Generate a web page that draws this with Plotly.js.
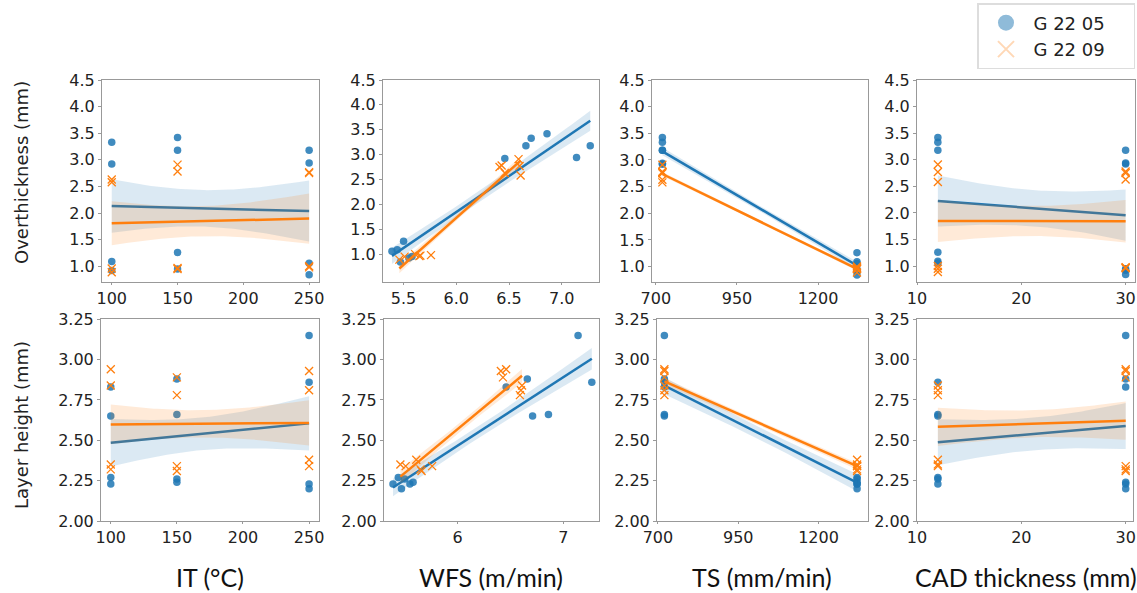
<!DOCTYPE html>
<html><head><meta charset="utf-8">
<script src="https://cdn.plot.ly/plotly-3.0.1.min.js"></script>
<style>html,body{margin:0;padding:0;background:#fff}#chart{width:1137px;height:593px}</style>
</head><body><div id="chart"></div>
<script>
// ---- Data (one entry per sample) ----
// G 22 05
const b_IT  = [100,100,150,150,250,250,100,100,150,150,250,250];
const b_TS  = [720,720,720,720,720,720,1320,1320,1320,1320,1320,1320];
const b_CAD = [12,30,12,30,12,30,12,30,12,30,12,30];
const b_WFS = [6.71,6.46,6.86,6.66,7.27,7.14,5.44,5.55,5.50,5.58,5.39,5.47];
const b_OT  = [3.33,2.92,3.42,3.18,3.18,2.94,1.09,0.92,1.26,0.95,1.06,0.84];
const b_LH  = [2.65,2.83,2.66,2.88,2.86,3.15,2.27,2.23,2.26,2.24,2.23,2.20];
// G 22 09
const o_IT  = [100,100,150,150,250,250,100,100,150,150,250,250];
const o_TS  = [720,720,720,720,720,720,1320,1320,1320,1320,1320,1320];
const o_CAD = [12,30,12,30,12,30,12,30,12,30,12,30];
const o_WFS = [6.61,6.46,6.59,6.43,6.60,6.41,5.46,5.65,5.51,5.66,5.61,5.76];
const o_OT  = [2.58,2.63,2.91,2.78,2.77,2.75,0.89,0.96,0.95,0.97,1.00,0.98];
const o_LH  = [2.84,2.94,2.78,2.89,2.81,2.93,2.35,2.32,2.34,2.31,2.38,2.34];

const seriesNames = ['G 22 05','G 22 09'];
const xLabels = ['IT (°C)','WFS (m/min)','TS (mm/min)','CAD thickness (mm)'];
const yLabels = ['Overthickness (mm)','Layer height (mm)'];

// ---- styling ----
const W=1137,H=593;
const BLUE='#1f77b4', ORANGE='#ff7f0e';
const fx = p=>p/W, fy = p=>1-p/H;
const colPx = [[[102,319],[383,599],[652,868],[917,1135]],[[101,319],[384,599],[657,868],[917,1133]]];
const rowPx = [[80,281.5],[319.3,521]];
const xRanges = [[[92.6,257.5],[5.305,7.353],[688,1354],[10,30.9]],[[92.6,257.5],[5.305,7.338],[697,1354],[10,30.7]]];
const yRanges = [[[0.715,4.5],[0.45,4.5],[0.72,4.5],[0.71,4.5]],[[2,3.25],[2,3.25],[2,3.25],[2,3.25]]];
const xTicks = [[[100,150,200,250],[5.5,6.0,6.5,7.0],[700,950,1200],[10,20,30]],[[100,150,200,250],[6,7],[700,950,1200],[10,20,30]]];
const xTickText = [[['100','150','200','250'],['5.5','6.0','6.5','7.0'],['700','950','1200'],['10','20','30']],[['100','150','200','250'],['6','7'],['700','950','1200'],['10','20','30']]];
const yTicks = [[1.0,1.5,2.0,2.5,3.0,3.5,4.0,4.5],[2.00,2.25,2.50,2.75,3.00,3.25]];
const yTickText = [['1.0','1.5','2.0','2.5','3.0','3.5','4.0','4.5'],['2.00','2.25','2.50','2.75','3.00','3.25']];

function fit(xs, ys){
  const n=xs.length; let mx=0,my=0; for(let i=0;i<n;i++){mx+=xs[i];my+=ys[i];} mx/=n; my/=n;
  let sxx=0,sxy=0; for(let i=0;i<n;i++){sxx+=(xs[i]-mx)**2; sxy+=(xs[i]-mx)*(ys[i]-my);}
  const b=sxy/sxx, a=my-b*mx; let ss=0; for(let i=0;i<n;i++){ss+=(ys[i]-a-b*xs[i])**2;}
  const s=Math.sqrt(ss/(n-2)); const lo=Math.min(...xs), hi=Math.max(...xs);
  const gx=[],gy=[],up=[],dn=[]; const N=60;
  for(let k=0;k<=N;k++){const x=lo+(hi-lo)*k/N; const y=a+b*x; const se=s*Math.sqrt(1/n+(x-mx)**2/sxx);
    gx.push(x);gy.push(y);up.push(y+se);dn.push(y-se);}
  return {gx,gy,up,dn};
}

const groups = [
  {name:seriesNames[0], col:BLUE, fill:'rgba(31,119,180,0.16)', xs:[b_IT,b_WFS,b_TS,b_CAD], ys:[b_OT,b_LH],
   marker:{symbol:'circle',size:7.5,color:'rgba(31,119,180,0.85)'}},
  {name:seriesNames[1], col:ORANGE, fill:'rgba(255,127,14,0.16)', xs:[o_IT,o_WFS,o_TS,o_CAD], ys:[o_OT,o_LH],
   marker:{symbol:'x-thin-open',size:8,color:ORANGE,line:{color:ORANGE,width:1.3}}}
];

const traces=[]; const layout={width:W,height:H,margin:{l:0,r:0,t:0,b:0},paper_bgcolor:'#fff',plot_bgcolor:'#fff',
  font:{family:'DejaVu Sans',color:'#222'}, showlegend:true, annotations:[]};

for(let r=0;r<2;r++){
  for(let c=0;c<4;c++){
    const idx=r*4+c+1; const xa='x'+(idx===1?'':idx), ya='y'+(idx===1?'':idx);
    const xk='xaxis'+(idx===1?'':idx), yk='yaxis'+(idx===1?'':idx);
    layout[xk]={domain:[fx(colPx[r][c][0]),fx(colPx[r][c][1])],range:xRanges[r][c],anchor:ya,
      tickvals:xTicks[r][c],ticktext:xTickText[r][c],showgrid:false,zeroline:false,showline:true,mirror:true,
      linecolor:'#999',linewidth:1,ticks:'outside',ticklen:2,tickcolor:'#999',tickfont:{size:16,family:'DejaVu Sans',color:'#222'}};
    layout[yk]={domain:[fy(rowPx[r][1]),fy(rowPx[r][0])],range:yRanges[r][c],anchor:xa,
      tickvals:yTicks[r],ticktext:yTickText[r],showgrid:false,zeroline:false,showline:true,mirror:true,
      linecolor:'#999',linewidth:1,ticks:'outside',ticklen:3,tickcolor:'#999',tickfont:{size:16,family:'DejaVu Sans',color:'#222'}};
    for(const g of groups){
      const X=g.xs[c], Y=g.ys[r]; const f=fit(X,Y);
      traces.push({type:'scatter',mode:'markers',x:X,y:Y,xaxis:xa,yaxis:ya,marker:g.marker,showlegend:false,hoverinfo:'skip'});
      traces.push({type:'scatter',mode:'lines',x:f.gx.concat(f.gx.slice().reverse()),y:f.up.concat(f.dn.slice().reverse()),
        fill:'toself',fillcolor:g.fill,line:{width:0},xaxis:xa,yaxis:ya,showlegend:false,hoverinfo:'skip'});
      traces.push({type:'scatter',mode:'lines',x:f.gx,y:f.gy,line:{color:g.col,width:2.5},xaxis:xa,yaxis:ya,showlegend:false,hoverinfo:'skip'});
    }
  }
}
// legend entries
const pad='\u00a0\u00a0\u00a0\u00a0';
traces.push({type:'scatter',mode:'markers',x:[null],y:[null],xaxis:'x',yaxis:'y',name:seriesNames[0]+pad,
  marker:{symbol:'circle',size:16,color:'rgba(31,119,180,0.5)'}});
traces.push({type:'scatter',mode:'markers',x:[null],y:[null],xaxis:'x',yaxis:'y',name:seriesNames[1]+pad,
  marker:{symbol:'x-thin-open',size:16,color:'rgba(255,127,14,0.3)',line:{color:'rgba(255,127,14,0.3)',width:2}}});
layout.legend={x:fx(1135),xanchor:'right',y:fy(3),yanchor:'top',bgcolor:'#fff',bordercolor:'#ddd',borderwidth:1.5,
  font:{family:'DejaVu Sans',size:18,color:'#222'},itemwidth:45,tracegroupgap:0};

// axis titles
const xCenters=[210,491,762,1026];
xLabels.forEach((t,i)=>layout.annotations.push({text:t,xref:'paper',yref:'paper',x:fx(xCenters[i]),y:fy(577),
  xanchor:'center',yanchor:'middle',showarrow:false,font:{family:'Lato',size:25,color:'#111'}}));
const yCenters=[173,425];
yLabels.forEach((t,i)=>layout.annotations.push({text:t,xref:'paper',yref:'paper',x:fx(21),y:fy(yCenters[i]),
  xanchor:'center',yanchor:'middle',textangle:-90,showarrow:false,font:{family:'DejaVu Sans',size:18,color:'#222'}}));

Plotly.newPlot('chart',traces,layout,{staticPlot:true});
</script></body></html>
